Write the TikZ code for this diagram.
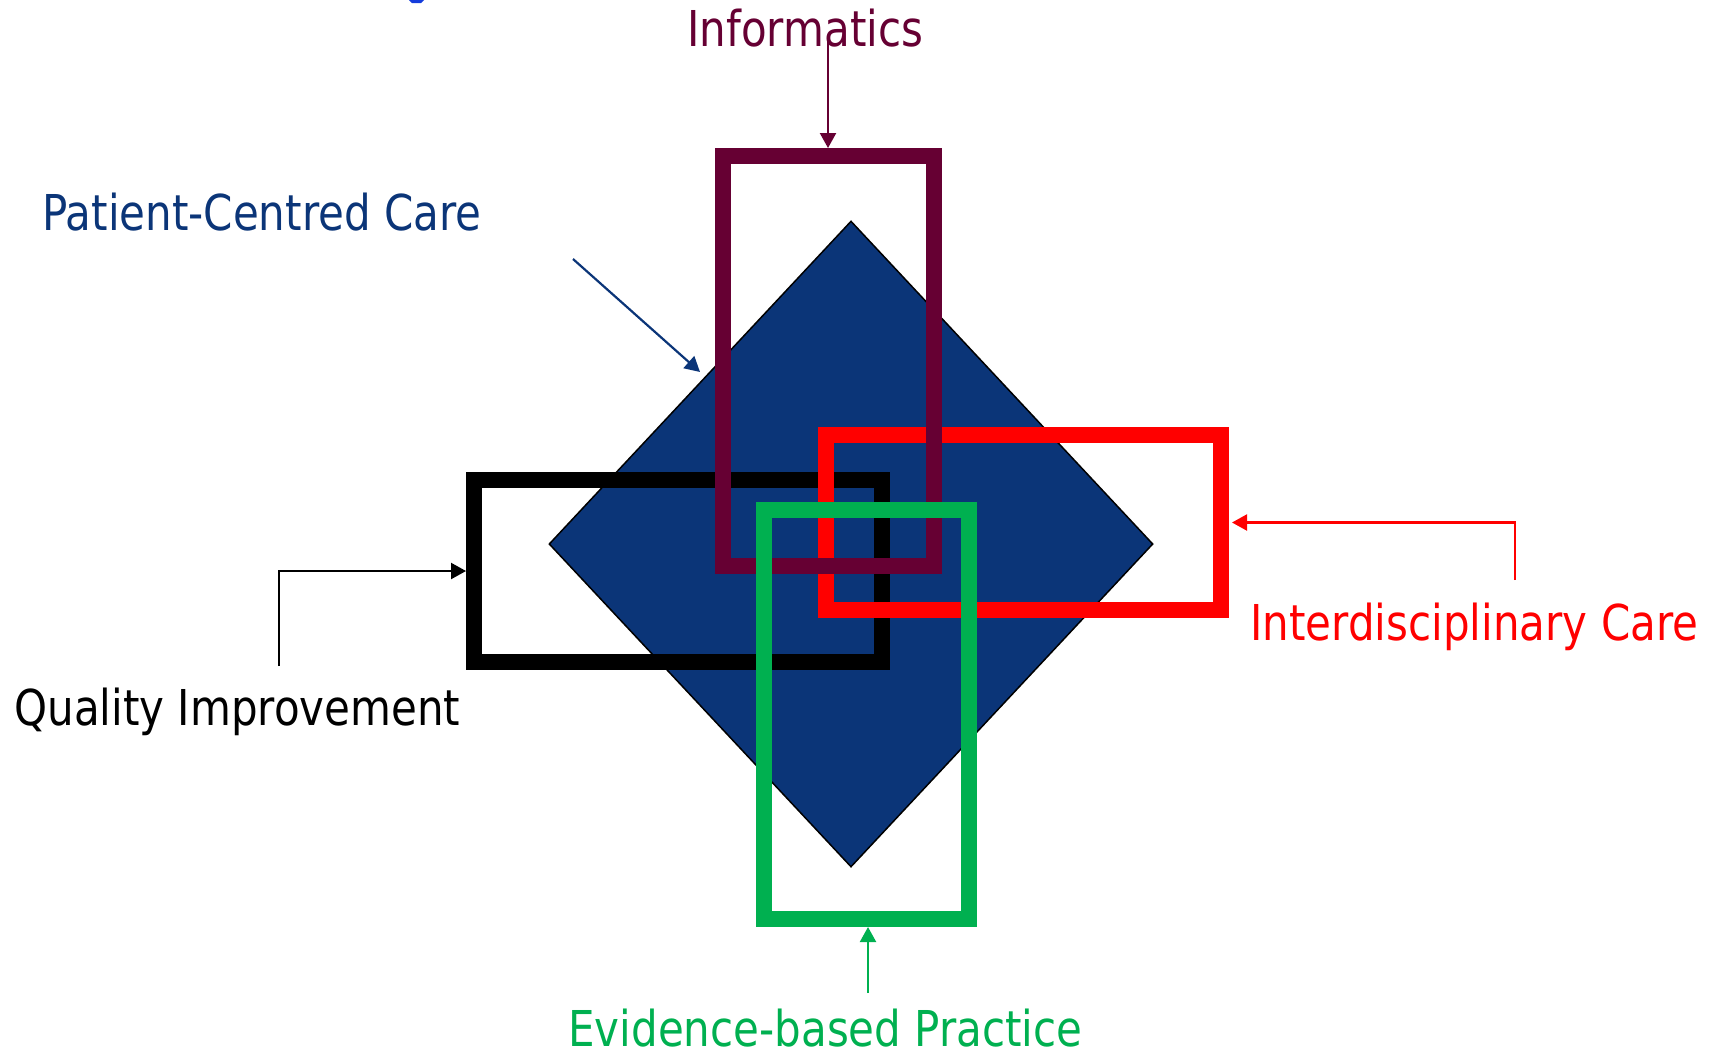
\documentclass[tikz,border=0pt]{standalone}
\usepackage{fontspec}
\setmainfont{DejaVu Sans}[FakeStretch=0.85]
\usetikzlibrary{arrows.meta,shapes.geometric}
\definecolor{navy}{RGB}{11,53,120}
\definecolor{infmaroon}{RGB}{102,0,51}
\definecolor{ebgreen}{RGB}{0,176,80}
\definecolor{topblue}{RGB}{20,60,220}
\begin{document}
\begin{tikzpicture}[x=0.5pt,y=-0.5pt,
  frame/.style={draw, line width=8pt, inner sep=0pt, rectangle},
  lbl/.style={anchor=base west, inner sep=0pt, font=\fontsize{24.7pt}{30pt}\selectfont},
  conn/.style={line width=1.1pt, -{Triangle[length=7.5pt,width=8pt]}}]
\useasboundingbox (0,0) rectangle (1718,1056);
% fragment of clipped text at top
\fill[topblue] (409,0) -- (424,0) -- (421,3) -- (412,3) -- cycle;
% central diamond
\node[diamond, draw=black, line width=0.75pt, fill=navy, minimum width=302pt, minimum height=323pt, inner sep=0pt] (pcc) at (851,544) {};
% frames
\node[frame, draw=black, minimum width=204pt, minimum height=91pt] (qi) at (678,571) {};
\node[frame, draw=red, minimum width=197.5pt, minimum height=87.5pt] (ic) at (1023.5,522.5) {};
\node[frame, draw=infmaroon, minimum width=105.75pt, minimum height=205pt] (inf) at (828.25,361) {};
\node[frame, draw=ebgreen, minimum width=102.5pt, minimum height=204.5pt] (ebp) at (866.5,714.5) {};
% labels
\node[lbl, text=infmaroon] (tInf) at (687,46) {Informatics};
\node[lbl, text=navy] (tPcc) at (42,230) {Patient-Centred Care};
\node[lbl, text=black] (tQi) at (14,725) {Quality Improvement};
\node[lbl, text=red] (tIc) at (1250,640) {Interdisciplinary Care};
\node[lbl, text=ebgreen, text depth=0pt] (tEbp) at (568,1046) {Evidence-based Practice};
% connectors
\coordinate (sInf) at (828,38);
\draw[conn, infmaroon] (sInf) -- (sInf |- inf.north);
\coordinate (sPcc) at (573,259);
\coordinate (ePcc) at (700,372);
\draw[conn, navy] (sPcc) -- (ePcc);
\coordinate (sQi) at (279,666);
\draw[conn, black] (sQi) |- (qi.west);
\coordinate (sIc) at (1515,580);
\draw[conn, red, shorten >=1.5pt] (sIc) |- (ic.east);
\coordinate (sEbp) at (868,993);
\draw[conn, ebgreen] (sEbp) -- (sEbp |- ebp.south);
\end{tikzpicture}
\end{document}
